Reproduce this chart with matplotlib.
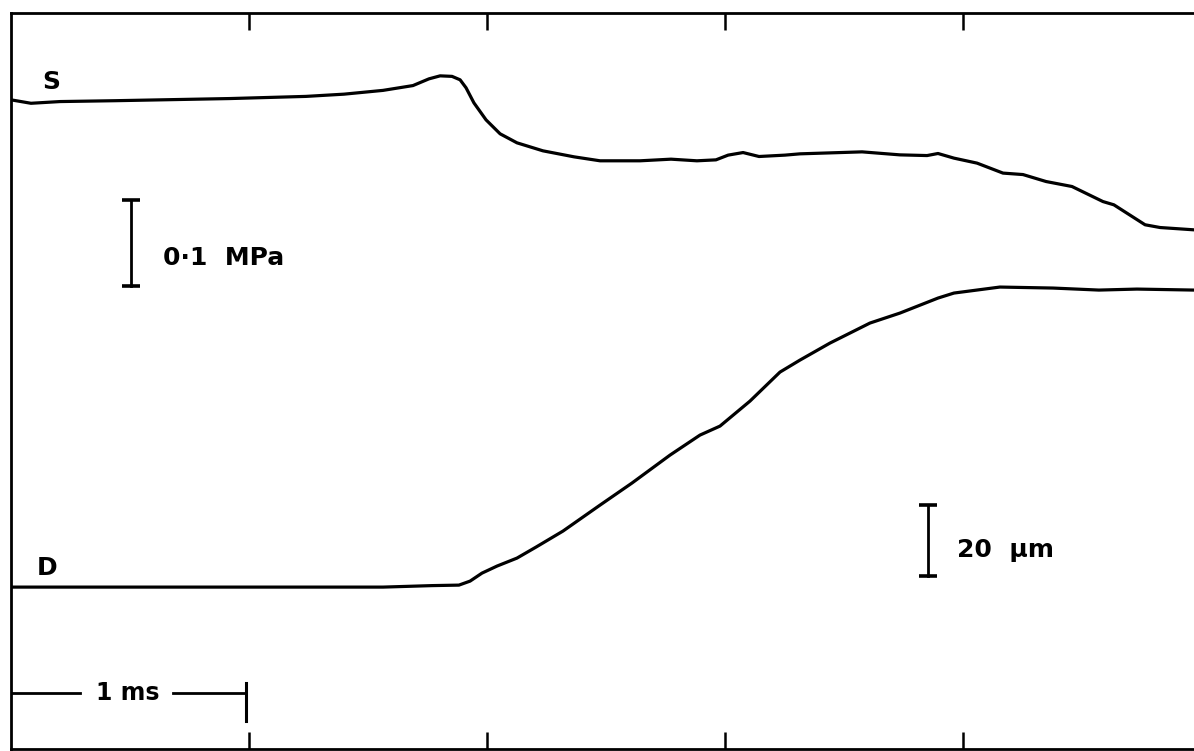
import numpy as np
import matplotlib.pyplot as plt

# Stress trace S (time in ms, pressure change in MPa)
s_time = [0.0, 0.084, 0.206, 0.437, 0.920, 1.239, 1.399, 1.563, 1.689, 1.756,
          1.803, 1.853, 1.887, 1.912, 1.945, 1.996, 2.055, 2.126, 2.235, 2.366,
          2.475, 2.643, 2.773, 2.882, 2.962, 3.013, 3.076, 3.143, 3.252, 3.315,
          3.576, 3.735, 3.849, 3.895, 3.962, 4.059, 4.168, 4.252, 4.349, 4.458,
          4.588, 4.634, 4.765, 4.828, 4.971]
s_mpa = [0.0, -0.004, -0.002, -0.001, 0.0015, 0.004, 0.0066, 0.011, 0.0166, 0.0244,
         0.0279, 0.0273, 0.0233, 0.014, -0.0035, -0.0233, -0.0395, -0.050, -0.0593, -0.0663,
         -0.0709, -0.0709, -0.069, -0.0709, -0.0698, -0.0643, -0.0613, -0.0659, -0.0643, -0.0628,
         -0.0605, -0.064, -0.0648, -0.0624, -0.0678, -0.0736, -0.0852, -0.0869, -0.095, -0.1008,
         -0.1183, -0.1221, -0.1453, -0.1485, -0.1512]

# Displacement trace D (time in ms, displacement in um)
d_time = [0.0, 0.794, 1.563, 1.769, 1.882, 1.929, 1.979, 2.042, 2.126, 2.206,
          2.319, 2.475, 2.609, 2.769, 2.895, 2.979, 3.105, 3.231, 3.315, 3.441,
          3.609, 3.735, 3.895, 3.962, 4.155, 4.378, 4.571, 4.731, 4.971]
d_um = [0.0, 0.0, 0.0, 0.42, 0.56, 1.69, 3.94, 5.92, 8.17, 11.27,
        15.77, 23.10, 29.30, 37.18, 42.82, 45.35, 52.39, 60.56, 63.94, 68.73,
        74.37, 77.18, 81.41, 82.82, 84.51, 84.23, 83.66, 83.94, 83.66]

time_ticks = [1, 2, 3, 4]

fig = plt.figure(figsize=(11.94, 7.51), dpi=100)
ax = fig.add_axes([11 / 1194, 2 / 751, 1.0, 736 / 751])
ax.set_xlim(0, 1194 / 238)
ax.set_ylim(-0.755, 0.101)

ax2 = ax.twinx()
ax2.set_ylim(-45.6, 161.7)

ink = "black"
lw = 2.3

ax.plot(s_time, s_mpa, color=ink, lw=lw, solid_capstyle="round", solid_joinstyle="round")
ax2.plot(d_time, d_um, color=ink, lw=lw, solid_capstyle="round", solid_joinstyle="round")

# frame: left, top, bottom only; time ticks point inward
for a in (ax, ax2):
    a.spines["right"].set_visible(False)
    a.set_yticks([])
for side in ("top", "bottom", "left"):
    ax.spines[side].set_linewidth(2.0)
    ax2.spines[side].set_visible(False)
ax.set_xticks(time_ticks)
ax.tick_params(axis="x", direction="in", top=True, bottom=True, length=12,
               width=1.8, labelbottom=False, labeltop=False)

font = dict(family="DejaVu Sans", color=ink, fontweight="bold")

# trace labels
ax.text(0.168, 0.021, "S", fontsize=18, ha="center", va="center", **font)
ax2.text(0.151, 5.35, "D", fontsize=18, ha="center", va="center", **font)

# 0.1 MPa calibration bar
ax.plot([0.504, 0.504], [-0.1163, -0.2163], color=ink, lw=2.0)
ax.plot([0.504, 0.504], [-0.1163, -0.2163], color=ink, lw=0, marker="_",
        markersize=13, markeredgewidth=2.6)
ax.text(0.639, -0.184, "0·1  MPa", fontsize=18, ha="left", va="center", **font)

# 20 um calibration bar
ax2.plot([3.853, 3.853], [3.2, 23.2], color=ink, lw=2.0)
ax2.plot([3.853, 3.853], [3.2, 23.2], color=ink, lw=0, marker="_",
         markersize=13, markeredgewidth=2.6)
ax2.text(3.975, 10.4, "20  µm", fontsize=18, ha="left", va="center", **font)

# 1 ms time bar
ax2.plot([0.0, 0.29], [-29.9, -29.9], color=ink, lw=2.0)
ax2.plot([0.68, 0.987], [-29.9, -29.9], color=ink, lw=2.0)
ax2.plot([0.987, 0.987], [-27.0, -37.7], color=ink, lw=2.2)
ax2.text(0.49, -29.9, "1 ms", fontsize=17, ha="center", va="center", **font)

fig.savefig("out.png", dpi=100)
